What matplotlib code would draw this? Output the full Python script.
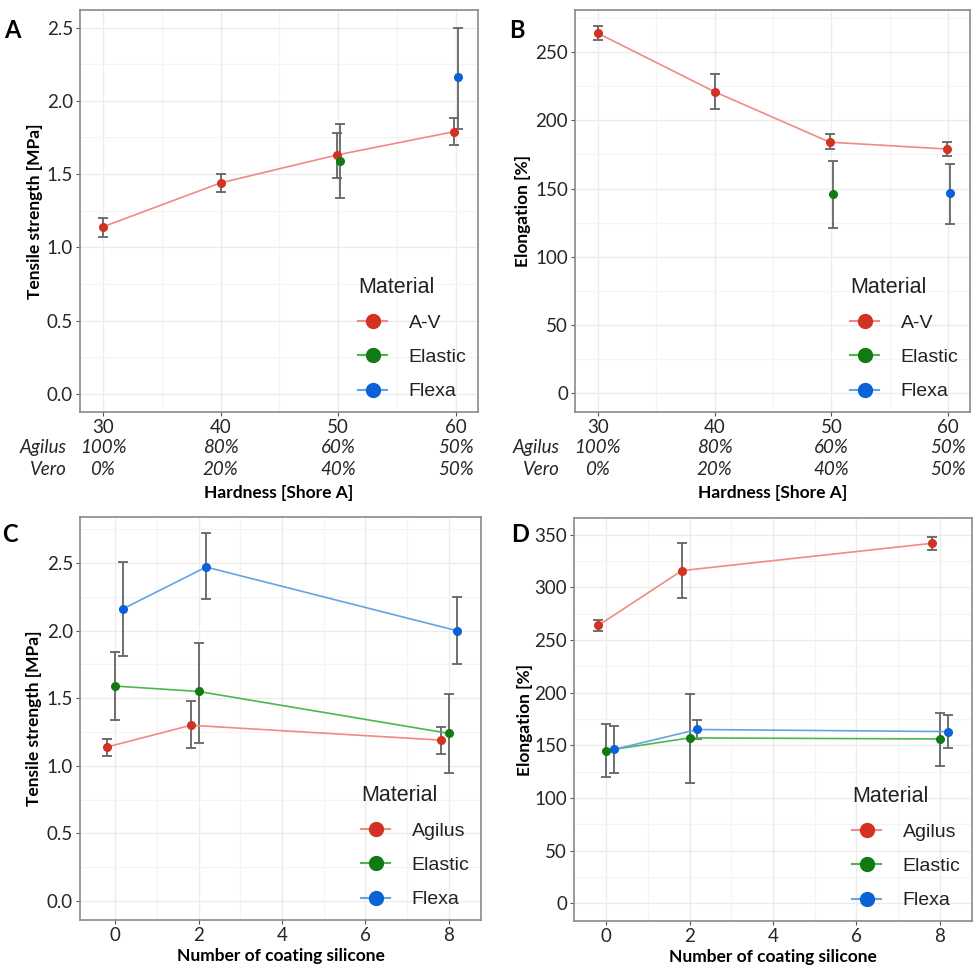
import numpy as np
import matplotlib
matplotlib.use('Agg')
import matplotlib.pyplot as plt
from matplotlib.lines import Line2D
from matplotlib.ticker import MultipleLocator

plt.rcParams['font.family'] = ['Lato', 'DejaVu Sans']

# ---- data ----
hardness = [30, 40, 50, 60]
agilus_pct = ['100%', '80%', '60%', '50%']
vero_pct = ['0%', '20%', '40%', '50%']

# panel A: tensile strength vs hardness
a_av_x = [30, 40, 50, 60]
a_av_y = [1.14, 1.44, 1.63, 1.79]
a_av_lo = [1.07, 1.38, 1.47, 1.70]
a_av_hi = [1.20, 1.50, 1.78, 1.88]
a_el_x = [50]
a_el_y = [1.59]
a_el_lo = [1.34]
a_el_hi = [1.84]
a_fl_x = [60]
a_fl_y = [2.16]
a_fl_lo = [1.81]
a_fl_hi = [2.50]

# panel B: elongation vs hardness
b_av_x = [30, 40, 50, 60]
b_av_y = [264, 221, 184, 179]
b_av_lo = [259, 208, 179, 174]
b_av_hi = [269, 234, 190, 184]
b_el_x = [50]
b_el_y = [146]
b_el_lo = [121]
b_el_hi = [170]
b_fl_x = [60]
b_fl_y = [147]
b_fl_lo = [124]
b_fl_hi = [168]

# panels C, D: vs number of coatings
coats = [0, 2, 8]
c_ag_y = [1.14, 1.30, 1.19]
c_ag_lo = [1.07, 1.13, 1.09]
c_ag_hi = [1.20, 1.48, 1.29]
c_el_y = [1.59, 1.55, 1.24]
c_el_lo = [1.34, 1.17, 0.95]
c_el_hi = [1.84, 1.91, 1.53]
c_fl_y = [2.16, 2.47, 2.00]
c_fl_lo = [1.81, 2.23, 1.75]
c_fl_hi = [2.51, 2.72, 2.25]

d_ag_y = [264, 316, 342]
d_ag_lo = [259, 290, 336]
d_ag_hi = [269, 342, 348]
d_el_y = [145, 157, 156]
d_el_lo = [120, 114, 130]
d_el_hi = [170, 199, 181]
d_fl_y = [146, 165, 163]
d_fl_lo = [124, 156, 147]
d_fl_hi = [168, 174, 179]

# ---- styling ----
pt_col = {'red': '#d23222', 'green': '#137a13', 'blue': '#0a62d6'}
ln_col = {'red': '#f08a84', 'green': '#4cb84c', 'blue': '#63a3e6'}
err_col = '#646464'
grid_col = '#ececec'
text_col = '#262626'
DODGE = 0.55


def dodge_positions(series):
    # ggplot-like position_dodge: spread only the groups present at each x
    out = []
    for i, (xs, *_rest) in enumerate(series):
        pos = []
        for x in xs:
            present = [j for j, s in enumerate(series) if x in s[0]]
            n = len(present)
            k = present.index(i)
            pos.append(x + DODGE * (k - (n - 1) / 2) / n)
        out.append(pos)
    return out


def draw(ax, series):
    xpos = dodge_positions(series)
    for (xs, ys, lo, hi, c), xp in zip(series, xpos):
        ys = np.array(ys)
        ax.errorbar(xp, ys, yerr=[ys - np.array(lo), np.array(hi) - ys],
                    fmt='none', ecolor=err_col, elinewidth=1.3, capsize=3.5,
                    capthick=1.3, zorder=2)
        ax.plot(xp, ys, color=ln_col[c], lw=1.2, zorder=3)
        ax.plot(xp, ys, 'o', color=pt_col[c], ms=5.5, zorder=4)


def style(ax, xlim, ylim, ymaj, ymin, xmaj, xmin, yfmt):
    ax.set_xlim(*xlim)
    ax.set_ylim(*ylim)
    ax.yaxis.set_major_locator(MultipleLocator(ymaj))
    ax.yaxis.set_minor_locator(MultipleLocator(ymin))
    ax.xaxis.set_major_locator(MultipleLocator(xmaj))
    ax.xaxis.set_minor_locator(MultipleLocator(xmin))
    ax.yaxis.set_major_formatter(yfmt)
    ax.grid(which='major', color=grid_col, lw=1.0, zorder=0)
    ax.grid(which='minor', color='#f4f4f4', lw=0.8, zorder=0)
    ax.set_axisbelow(True)
    for s in ax.spines.values():
        s.set_color('#8a8a8a')
        s.set_linewidth(1.2)
    ax.tick_params(which='major', length=3, width=0.8, color='#555555',
                   labelsize=13.5, labelcolor=text_col, pad=2)
    ax.tick_params(which='minor', length=0)


def legend(ax, names):
    handles = [Line2D([], [], color=ln_col[c], lw=1.5, marker='o', ms=10,
                      markerfacecolor=pt_col[c], markeredgecolor=pt_col[c])
               for c in ['red', 'green', 'blue']]
    lg = ax.legend(handles, names, title='Material', loc='lower right',
                   bbox_to_anchor=(1.0, 0.0), frameon=False,
                   prop={'family': 'Liberation Sans', 'size': 14},
                   title_fontproperties={'family': 'Liberation Sans', 'size': 15.5},
                   handlelength=1.5, handletextpad=1.1, labelspacing=0.85,
                   borderaxespad=0.2, alignment='left')
    for t in lg.get_texts():
        t.set_color('#222222')
    lg.get_title().set_color('#222222')


fig = plt.figure(figsize=(9.8, 9.71), dpi=100)
W, H = 980, 971


def add_axes(l, t, r, b):
    return fig.add_axes([l / W, 1 - b / H, (r - l) / W, (b - t) / H])


axA = add_axes(80, 10, 478, 412)
axB = add_axes(575, 10, 970, 412)
axC = add_axes(80, 517, 481, 920)
axD = add_axes(574, 518, 972, 921)

fmt1 = matplotlib.ticker.FormatStrFormatter('%.1f')
fmt0 = matplotlib.ticker.FormatStrFormatter('%d')

draw(axA, [(a_av_x, a_av_y, a_av_lo, a_av_hi, 'red'),
           (a_el_x, a_el_y, a_el_lo, a_el_hi, 'green'),
           (a_fl_x, a_fl_y, a_fl_lo, a_fl_hi, 'blue')])
style(axA, (28.05, 61.87), (-0.124, 2.62), 0.5, 0.25, 10, 5, fmt1)

draw(axB, [(b_av_x, b_av_y, b_av_lo, b_av_hi, 'red'),
           (b_el_x, b_el_y, b_el_lo, b_el_hi, 'green'),
           (b_fl_x, b_fl_y, b_fl_lo, b_fl_hi, 'blue')])
style(axB, (28.05, 61.87), (-14, 281), 50, 25, 10, 5, fmt0)

draw(axC, [(coats, c_ag_y, c_ag_lo, c_ag_hi, 'red'),
           (coats, c_el_y, c_el_lo, c_el_hi, 'green'),
           (coats, c_fl_y, c_fl_lo, c_fl_hi, 'blue')])
style(axC, (-0.84, 8.77), (-0.14, 2.84), 0.5, 0.25, 2, 1, fmt1)

draw(axD, [(coats, d_ag_y, d_ag_lo, d_ag_hi, 'red'),
           (coats, d_el_y, d_el_lo, d_el_hi, 'green'),
           (coats, d_fl_y, d_fl_lo, d_fl_hi, 'blue')])
style(axD, (-0.77, 8.77), (-17, 366), 50, 25, 2, 1, fmt0)

for ax in (axA, axB):
    ax.set_xticks(hardness)
    ax.set_xticklabels([str(h) for h in hardness])
    tr = matplotlib.transforms.blended_transform_factory(ax.transData, ax.transAxes)
    for h, ag, ve in zip(hardness, agilus_pct, vero_pct):
        ax.text(h, -0.089, ag, transform=tr, ha='center', va='center',
                fontsize=13.5, style='italic', color=text_col)
        ax.text(h, -0.144, ve, transform=tr, ha='center', va='center',
                fontsize=13.5, style='italic', color=text_col)
    ax.set_xlabel('Hardness [Shore A]', fontsize=12.5, fontweight='bold')
    ax.xaxis.set_label_coords(0.5, -0.201)
    ax.xaxis.label.set_va('center')

axA.text(-0.033, -0.089, 'Agilus', transform=axA.transAxes, ha='right',
         va='center', fontsize=13.5, style='italic', color=text_col)
axA.text(-0.033, -0.144, 'Vero', transform=axA.transAxes, ha='right',
         va='center', fontsize=13.5, style='italic', color=text_col)
axB.text(-0.038, -0.089, 'Agilus', transform=axB.transAxes, ha='right',
         va='center', fontsize=13.5, style='italic', color=text_col)
axB.text(-0.038, -0.144, 'Vero', transform=axB.transAxes, ha='right',
         va='center', fontsize=13.5, style='italic', color=text_col)

for ax in (axC, axD):
    ax.set_xlabel('Number of coating silicone', fontsize=12.5, fontweight='bold')
    ax.xaxis.set_label_coords(0.5, -0.089)
    ax.xaxis.label.set_va('center')

axA.set_ylabel('Tensile strength [MPa]', fontsize=12.5, fontweight='bold')
axB.set_ylabel('Elongation [%]', fontsize=12.5, fontweight='bold')
axC.set_ylabel('Tensile strength [MPa]', fontsize=12.5, fontweight='bold')
axD.set_ylabel('Elongation [%]', fontsize=12.5, fontweight='bold')
for ax, xpx, left, width in ((axA, 35, 80, 398), (axB, 523, 575, 395),
                             (axC, 34, 80, 401), (axD, 525, 574, 398)):
    ax.yaxis.set_label_coords((xpx - left) / width, 0.5)
    ax.yaxis.label.set_va('center')

legend(axA, ['A-V', 'Elastic', 'Flexa'])
legend(axB, ['A-V', 'Elastic', 'Flexa'])
legend(axC, ['Agilus', 'Elastic', 'Flexa'])
legend(axD, ['Agilus', 'Elastic', 'Flexa'])

for lbl, x, y in (('A', 12, 30), ('B', 517, 30), ('C', 10, 535), ('D', 520, 535)):
    fig.text(x / W, 1 - y / H, lbl, fontsize=17, fontweight='bold',
             ha='center', va='center', color='black')

fig.savefig('out.png', dpi=100)
